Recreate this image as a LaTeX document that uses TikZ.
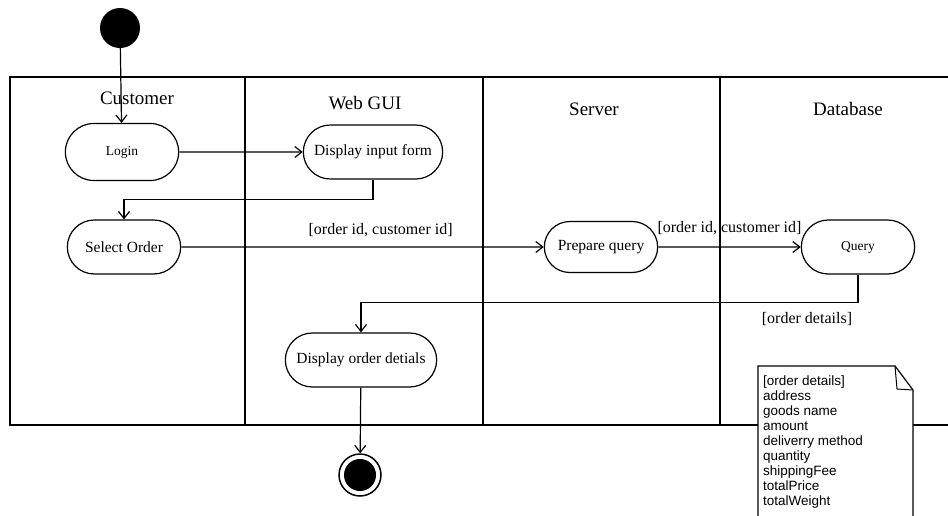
\documentclass[tikz,border=0pt]{standalone}
\usepackage{fontspec}
\setmainfont{Liberation Serif}
\newfontfamily\notefont{Liberation Sans}
\usepackage{tikz}
\usetikzlibrary{positioning, arrows.meta, calc, shapes.misc}
\usepackage{xcolor}
\tikzset{
    action/.style={
        rounded rectangle,
        draw=black,
        line width=1.2pt,
        minimum width=120pt,
        minimum height=54pt,
        font=\fontsize{15.5}{18}\selectfont
    },
    startnode/.style={
        circle,
        fill=black,
        inner sep=0pt,
        minimum size=40pt
    },
    endnode/.style={
        circle,
        draw=black,
        fill=white,
        line width=1.5pt,
        inner sep=0pt,
        minimum size=42pt,
        path picture={\fill[black] (path picture bounding box.center) circle (16pt);}
    },
    flow/.style={
        line width=1.2pt,
        -{Straight Barb[length=7pt,width=11pt]}
    },
    lane/.style={
        line width=1.6pt
    },
    lanetitle/.style={
        font=\fontsize{19}{22}\selectfont
    },
    guard/.style={
        font=\fontsize{16}{19}\selectfont
    }
}
\begin{document}
\begin{tikzpicture}[x=1pt, y=-1pt]

      \useasboundingbox (0,0) rectangle (948,515);
      \clip (0,0) rectangle (948,515);

      \draw[lane] (948,77) -- (10,77) -- (10,425) -- (948,425);
      \draw[lane] (245,77) -- (245,425);
      \draw[lane] (483,77) -- (483,425);
      \draw[lane] (720,77) -- (720,425);

      \node[lanetitle] (tcust) at (137,98) {Customer};
      \node[lanetitle] (tgui) at (365,103) {Web GUI};
      \node[lanetitle] (tserv) at (594,109) {Server};
      \node[lanetitle] (tdb) at (848,109) {Database};

      \node[startnode] (start) at (120,28) {};
      \node[action, minimum height=57pt, font=\fontsize{13.5}{16}\selectfont] (login) at (122,152) {Login};
      \node[action, minimum width=146pt] (dinput) at (373,152) {Display input form};
      \node[action] (select) at (124,247) {Select Order};
      \node[action, minimum height=51pt] (prep) at (601,247) {Prepare query};
      \node[action, font=\fontsize{13.5}{16}\selectfont] (query) at (858,247) {Query};
      \node[action, minimum width=158pt] (dorder) at (361,360) {Display order detials};
      \node[endnode] (end) at (360,475) {};

      \draw[flow] (start) -- (login);
      \draw[flow] (login) -- (dinput);
      \draw[flow] (dinput.south) -- ++(0,20) -| (select.north);
      \draw[flow] (select) -- node[guard, pos=0.55, above=6pt] (g1) {[order id, customer id]} (prep);
      \draw[flow] (prep) -- node[guard, midway, above=8pt] (g2) {[order id, customer id]} (query);
      \draw[flow] (query.south) -- ++(0,28) node[guard, below left=6pt and 2pt] (g3) {[order details]} -| (dorder.north);
      \draw[flow] (dorder) -- (end);

      \draw[line width=1.2pt, fill=white] (758,366) -- (895,366) -- (913,390) -- (913,530) -- (758,530) -- cycle;
      \draw[line width=1pt] (895,366) -- (897,389) -- (913,390);
      \node[anchor=north west, align=left, inner sep=3pt, font=\notefont\fontsize{13.5}{15}\selectfont] (notetext) at (760,373) {[order details]\\address\\goods name\\amount\\deliverry method\\quantity\\shippingFee\\totalPrice\\totalWeight};

    \end{tikzpicture}
\end{document}
